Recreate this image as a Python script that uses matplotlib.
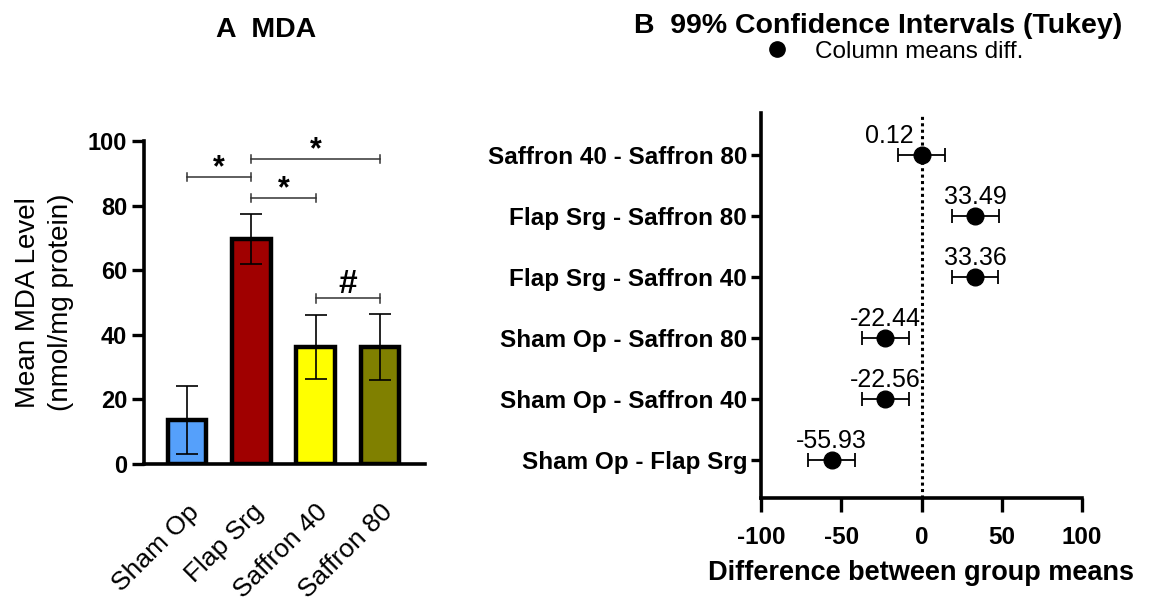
import matplotlib
matplotlib.use("Agg")
import matplotlib.pyplot as plt
import numpy as np

plt.rcParams['font.family'] = ['Liberation Sans', 'DejaVu Sans']

# ---- Panel A data ----
groups = ["Sham Op", "Flap Srg", "Saffron 40", "Saffron 80"]
mda_mean = [13.7, 69.6, 36.2, 36.2]
mda_sd = [10.5, 7.7, 9.9, 10.3]
bar_colors = ["#55A0FB", "#A00000", "#FFFF00", "#808000"]
# brackets: (group i, group j, bracket level, symbol)
brackets = [(0, 1, 88.9, "*"), (1, 3, 94.4, "*"), (1, 2, 82.4, "*"), (2, 3, 51.3, "#")]
yticks_a = [0, 20, 40, 60, 80, 100]

# ---- Panel B data ----
comparisons = ["Sham Op - Flap Srg", "Sham Op - Saffron 40", "Sham Op - Saffron 80",
               "Flap Srg - Saffron 40", "Flap Srg - Saffron 80", "Saffron 40 - Saffron 80"]
mean_diff = [-55.93, -22.56, -22.44, 33.36, 33.49, 0.12]
ci_low = [-70.5, -37.1, -37.0, 18.8, 18.9, -14.6]
ci_high = [-41.3, -8.0, -7.9, 47.9, 48.1, 14.8]
xticks_b = [-100, -50, 0, 50, 100]

W, H = 1151, 600
fig = plt.figure(figsize=(W / 100, H / 100), dpi=100)

def fx(px):
    return px / W

def fy(py):
    return 1 - py / H

# ---------- Panel A ----------
axA = fig.add_axes([fx(144), fy(464), fx(425) - fx(144), fy(141) - fy(464)])
x = np.arange(len(groups))
axA.bar(x, mda_mean, width=0.6, color=bar_colors, edgecolor="black", linewidth=3.2, zorder=2)
axA.errorbar(x, mda_mean, yerr=mda_sd, fmt="none", ecolor="black", elinewidth=1.2,
             capsize=8, capthick=1.2, zorder=3)
axA.set_xlim(-0.67, 3.7)
axA.set_ylim(0, 100)
axA.set_yticks(yticks_a)
axA.set_yticklabels([str(v) for v in yticks_a], fontsize=17, fontweight="bold")
axA.set_xticks(x)
axA.set_xticklabels(groups, rotation=45, ha="right", rotation_mode="anchor", fontsize=19)
axA.tick_params(axis="x", length=0, pad=26)
axA.tick_params(axis="y", length=9, width=2.4, pad=3)
for s in ["top", "right"]:
    axA.spines[s].set_visible(False)
axA.spines["left"].set_linewidth(2.6)
axA.spines["bottom"].set_linewidth(2.6)
axA.set_ylabel("Mean MDA Level\n(nmol/mg protein)", fontsize=20, labelpad=10, linespacing=1.35)
for i, j, lvl, sym in brackets:
    axA.plot([i, j], [lvl, lvl], color="#333333", lw=1.1, clip_on=False, zorder=4)
    for e in (i, j):
        axA.plot([e, e], [lvl - 1.3, lvl + 1.3], color="#333333", lw=1.1, clip_on=False, zorder=4)
    if sym == "*":
        axA.text((i + j) / 2, lvl + 0.3, sym, ha="center", va="baseline", fontsize=22,
                 fontweight="bold", clip_on=False)
    else:
        axA.text((i + j) / 2, lvl + 1.5, sym, ha="center", va="baseline", fontsize=24,
                 fontweight="bold", clip_on=False)

fig.text(fx(266), fy(37), "A  MDA", ha="center", va="baseline", fontsize=20.5, fontweight="bold")

# ---------- Panel B ----------
axB = fig.add_axes([fx(761), fy(498), fx(1082) - fx(761), fy(113) - fy(498)])
yp = np.arange(len(comparisons))
md = np.array(mean_diff)
err = np.vstack([md - np.array(ci_low), np.array(ci_high) - md])
axB.axvline(0, color="black", linestyle=(0, (1, 1.1)), lw=2.2, zorder=1)
axB.errorbar(md, yp, xerr=err, fmt="o", color="black", ms=12, elinewidth=1.3,
             capsize=5, capthick=1.3, zorder=3)
for xi, yi, v in zip(md, yp, mean_diff):
    if abs(v) < 5:
        axB.text(xi - 5, yi + 0.2, f"{v:.2f}", ha="right", va="baseline", fontsize=18)
    else:
        axB.text(xi, yi + 0.2, f"{v:.2f}", ha="center", va="baseline", fontsize=18)
axB.set_xlim(-100, 100)
axB.set_ylim(-0.62, 5.69)
axB.set_yticks(yp)
axB.set_yticklabels(comparisons, fontsize=17.5, fontweight="bold")
axB.set_xticks(xticks_b)
axB.set_xticklabels([str(v) for v in xticks_b], fontsize=17.5, fontweight="bold")
axB.tick_params(axis="y", length=7, width=2.4, pad=3)
axB.tick_params(axis="x", length=10, width=2.4, pad=10)
for s in ["top", "right"]:
    axB.spines[s].set_visible(False)
axB.spines["left"].set_linewidth(2.6)
axB.spines["bottom"].set_linewidth(2.6)
axB.set_xlabel("Difference between group means", fontsize=19.5, fontweight="bold", labelpad=8)

fig.text(fx(878), fy(33), "B  99% Confidence Intervals (Tukey)", ha="center", va="baseline",
         fontsize=20.5, fontweight="bold")
fig.lines.append(plt.Line2D([fx(777)], [fy(49)], marker="o", color="black", ms=11,
                            transform=fig.transFigure))
fig.text(fx(815), fy(58), "Column means diff.", ha="left", va="baseline", fontsize=17.5)

fig.savefig("out.png", dpi=100)
